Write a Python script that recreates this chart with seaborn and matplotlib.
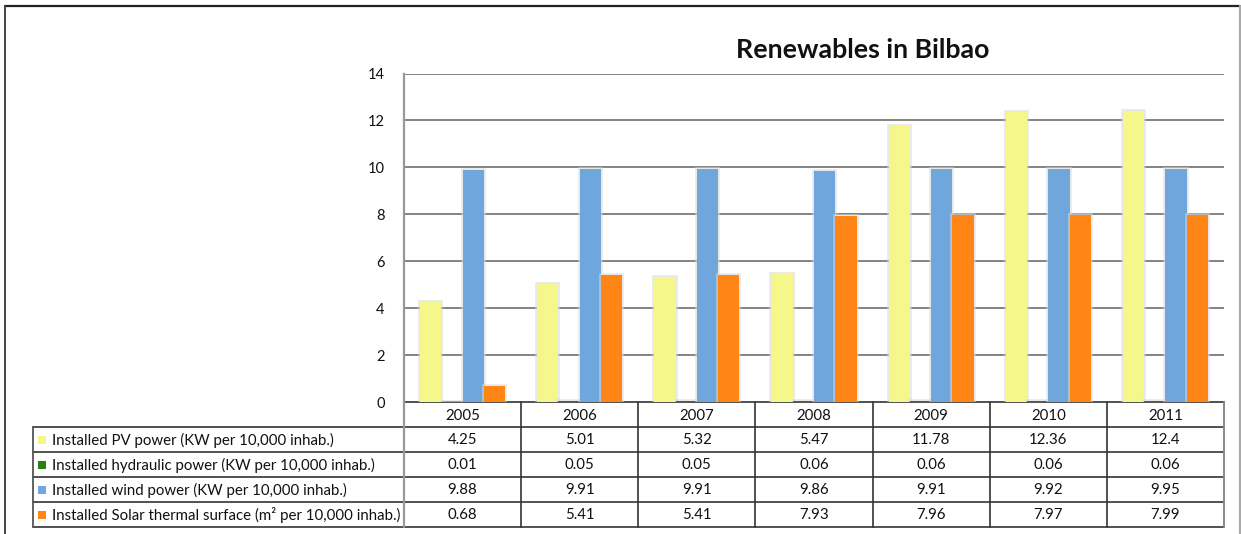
import matplotlib
matplotlib.use("Agg")
import matplotlib.pyplot as plt
import matplotlib.patheffects as pe
from matplotlib.transforms import blended_transform_factory
from matplotlib.patches import Rectangle
from matplotlib.lines import Line2D
import seaborn as sns
import pandas as pd

years = ["2005", "2006", "2007", "2008", "2009", "2010", "2011"]
series_names = [
    "Installed PV power (KW per 10,000 inhab.)",
    "Installed hydraulic power (KW per 10,000 inhab.)",
    "Installed wind power (KW per 10,000 inhab.)",
    "Installed Solar thermal surface (m\u00b2 per 10,000 inhab.)",
]
pv_power = [4.25, 5.01, 5.32, 5.47, 11.78, 12.36, 12.4]
hydraulic_power = [0.01, 0.05, 0.05, 0.06, 0.06, 0.06, 0.06]
wind_power = [9.88, 9.91, 9.91, 9.86, 9.91, 9.92, 9.95]
solar_thermal = [0.68, 5.41, 5.41, 7.93, 7.96, 7.97, 7.99]
colors = ["#F6F78A", "#2E7D12", "#6FA7DC", "#FF8517"]
y_ticks = [0, 2, 4, 6, 8, 10, 12, 14]
title = "Renewables in Bilbao"

all_values = [pv_power, hydraulic_power, wind_power, solar_thermal]
df = pd.DataFrame(
    [(y, name, v) for name, vals in zip(series_names, all_values) for y, v in zip(years, vals)],
    columns=["year", "series", "value"],
)

sns.set_theme(style="white")
plt.rcParams["font.family"] = ["Lato", "DejaVu Sans"]

W, H = 1241, 534
fig = plt.figure(figsize=(W / 100, H / 100), dpi=100)

def fx(px):
    return px / W

def fy(py):
    return 1 - py / H

# chart area
ax_left, ax_right, ax_top, ax_bottom = 404, 1224, 73.5, 402
ax = fig.add_axes([fx(ax_left), fy(ax_bottom), fx(ax_right - ax_left), fy(ax_top) - fy(ax_bottom)])
sns.barplot(data=df, x="year", y="value", hue="series", hue_order=series_names,
            palette=colors, width=0.727, saturation=1, legend=False, ax=ax)
for patch in ax.patches:
    patch.set_linewidth(0)
    patch.set_path_effects([
        pe.Stroke(linewidth=2.6, foreground="#d9d9d9", alpha=0.6),
        pe.Normal(),
    ])
    patch.set_zorder(3)

ax.set_xlim(-0.5, len(years) - 0.5)
ax.set_ylim(0, 14)
ax.set_yticks(y_ticks)
ax.set_yticklabels([str(t) for t in y_ticks], fontsize=10.5, color="#111111")
ax.tick_params(axis="y", length=0, pad=14)
ax.set_xticks([])
ax.set_xlabel("")
ax.set_ylabel("")
for t in y_ticks[1:]:
    ax.axhline(t, color="#7a7a7a", lw=1.3, zorder=1)
for side in ["top", "right", "bottom"]:
    ax.spines[side].set_visible(False)
ax.spines["left"].set_color("#999999")
ax.spines["left"].set_linewidth(1.6)
ax.patch.set_alpha(0)

fig.text(fx(863), fy(50), title, ha="center", va="center",
         fontsize=19.3, fontweight="bold", color="#111111")

# overlay for data table and frame, in pixel coordinates
ov = fig.add_axes([0, 0, 1, 1])
ov.set_xlim(0, W)
ov.set_ylim(H, 0)
ov.axis("off")
ov.patch.set_alpha(0)
ov.set_zorder(-1)
ax.set_zorder(1)

# outer frame
ov.add_line(Line2D([5, 1240], [6, 6], color="#222222", lw=1.6))
ov.add_line(Line2D([5, 5], [6, H + 5], color="#444444", lw=1.4))
ov.add_line(Line2D([1240, 1240], [6, H + 5], color="#aaaaaa", lw=1.6))

tr = blended_transform_factory(ax.transData, ov.transData)
row_edges = [402, 427, 451.5, 476.5, 501.5, 526.5]
n = len(years)
tab_left = 33

# horizontal rules
ov.add_line(Line2D([-0.5, n - 0.5], [row_edges[0]] * 2, color="#333333", lw=1.2, transform=tr))
for ry in row_edges[1:]:
    ov.plot([tab_left, ax_left], [ry, ry], color="#333333", lw=1.2)
    ov.add_line(Line2D([-0.5, n - 0.5], [ry, ry], color="#333333", lw=1.2, transform=tr))

# vertical rules
ov.plot([tab_left, tab_left], [row_edges[1], row_edges[-1]], color="#555555", lw=1.3)
ov.add_line(Line2D([-0.5, -0.5], [row_edges[0], row_edges[-1]], color="#999999", lw=1.6, transform=tr))
for i in range(1, n):
    ov.add_line(Line2D([i - 0.5, i - 0.5], [row_edges[0], row_edges[-1]], color="#333333", lw=1.2, transform=tr))
ov.add_line(Line2D([n - 0.5, n - 0.5], [row_edges[0], row_edges[-1]], color="#888888", lw=1.4, transform=tr))

cell_fs = 10.8
for i, yr in enumerate(years):
    ov.text(i, (row_edges[0] + row_edges[1]) / 2 + 1, yr, transform=tr,
            ha="center", va="center", fontsize=cell_fs, color="#111111")
for r, (name, vals, col) in enumerate(zip(series_names, all_values, colors)):
    cy = (row_edges[r + 1] + row_edges[r + 2]) / 2 + 1
    ov.add_patch(Rectangle((38, cy - 4.5), 8, 8, facecolor=col, edgecolor="none"))
    ov.text(52, cy, name, ha="left", va="center", fontsize=cell_fs, color="#111111")
    for i, v in enumerate(vals):
        ov.text(i, cy, f"{v:g}", transform=tr, ha="center", va="center",
                fontsize=cell_fs, color="#111111")

fig.savefig("out.png", dpi=100)
